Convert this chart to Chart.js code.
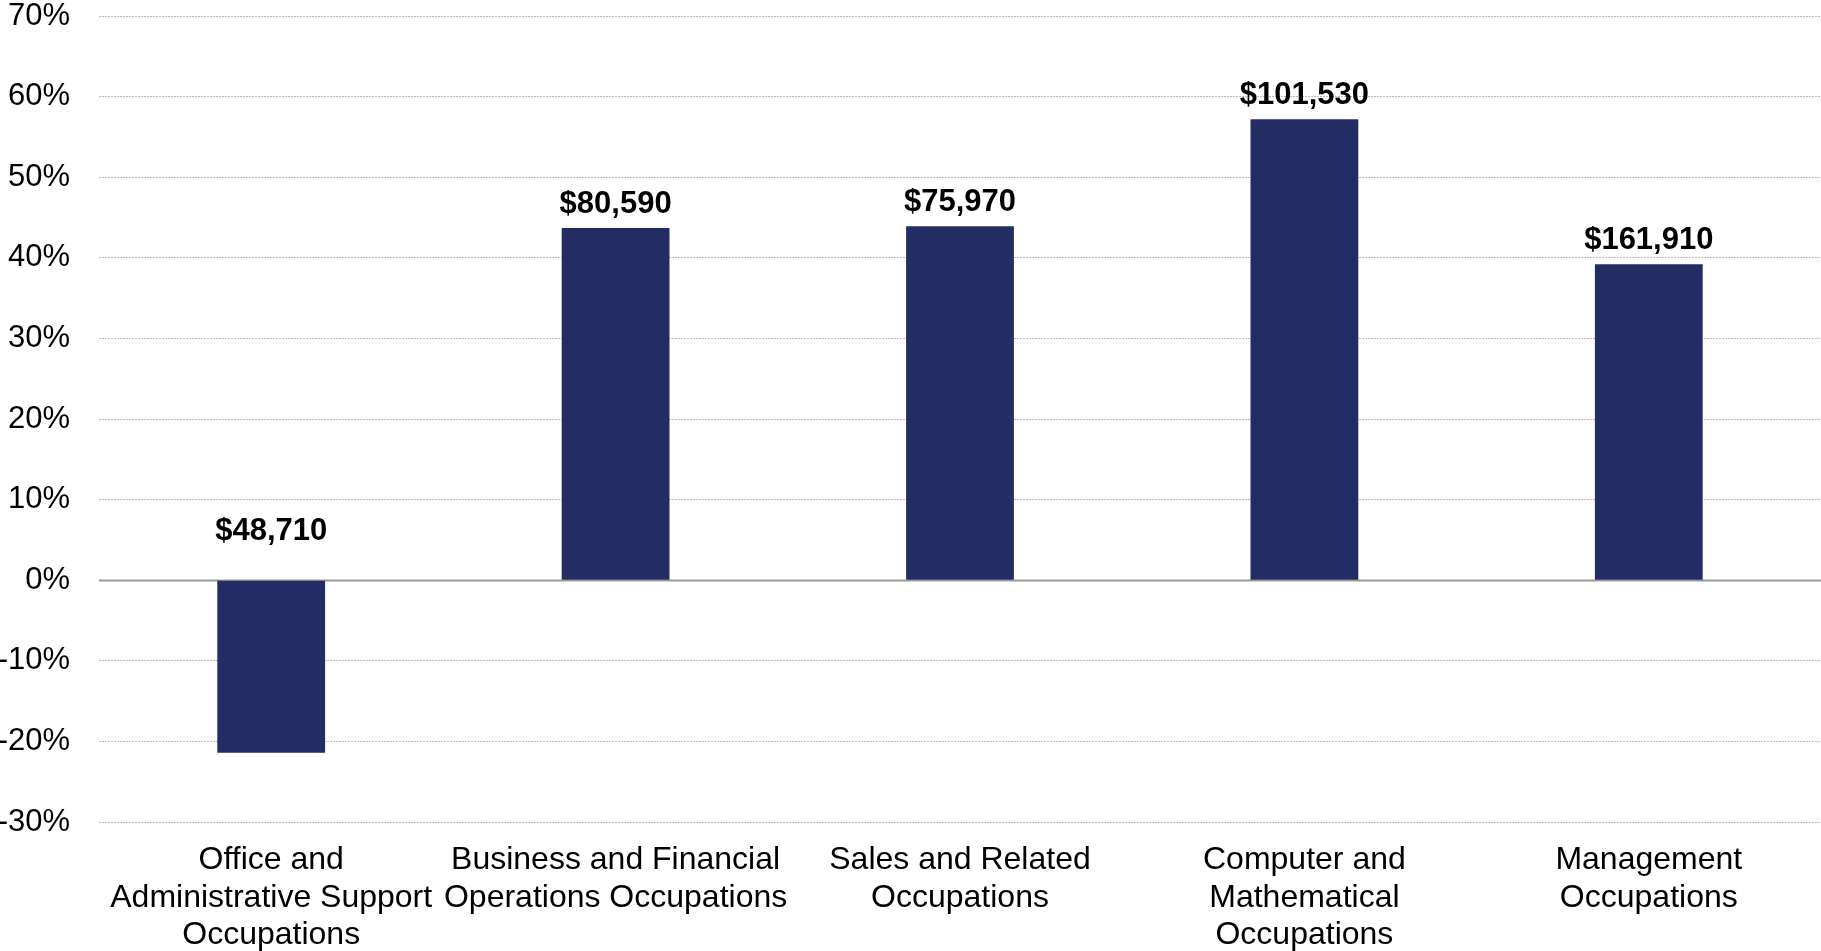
<!DOCTYPE html>
<html>
<head>
<meta charset="utf-8">
<script src="https://cdn.jsdelivr.net/npm/chart.js@4/dist/chart.umd.min.js"></script>
<style>
  html, body { margin: 0; padding: 0; background: #ffffff; }
  #wrap { width: 1821px; height: 951px; position: relative; }
</style>
</head>
<body>
<div id="wrap"><canvas id="chart"></canvas></div>
<script>
// Occupation groups (multi-line axis labels)
const categories = [
  ['Office and', 'Administrative Support', 'Occupations'],
  ['Business and Financial', 'Operations Occupations'],
  ['Sales and Related', 'Occupations'],
  ['Computer and', 'Mathematical', 'Occupations'],
  ['Management', 'Occupations']
];
// Percent change per group
const changePct = [-21.4, 43.7, 43.9, 57.2, 39.2];
// Annual wage shown above each bar
const wageLabels = ['$48,710', '$80,590', '$75,970', '$101,530', '$161,910'];
// Value axis range and step (percent)
const yMin = -30;
const yMax = 70;
const yStep = 10;

const FONT = '"Liberation Sans", Arial, Helvetica, sans-serif';
const BAR_COLOR = '#242c64';

// Solid baseline at zero, drawn under the bars
const zeroLine = {
  id: 'zeroLine',
  beforeDatasetsDraw(chart) {
    const { ctx, chartArea, scales } = chart;
    const y = Math.round(scales.y.getPixelForValue(0)) + 0.5;
    ctx.save();
    ctx.strokeStyle = '#9a9a9a';
    ctx.lineWidth = 2;
    ctx.beginPath();
    ctx.moveTo(chartArea.left, y);
    ctx.lineTo(chartArea.right, y);
    ctx.stroke();
    ctx.restore();
  }
};

// Wage text above each bar (above the baseline for negative bars)
const wageText = {
  id: 'wageText',
  afterDatasetsDraw(chart) {
    const { ctx, scales } = chart;
    const meta = chart.getDatasetMeta(0);
    const zeroY = scales.y.getPixelForValue(0);
    ctx.save();
    ctx.font = 'bold 31px ' + FONT;
    ctx.fillStyle = '#000000';
    ctx.textAlign = 'center';
    ctx.textBaseline = 'alphabetic';
    meta.data.forEach((bar, i) => {
      const v = changePct[i];
      const baseY = v >= 0 ? bar.y - 15 : zeroY - 40;
      ctx.fillText(wageLabels[i], bar.x, baseY);
    });
    ctx.restore();
  }
};

new Chart(document.getElementById('chart'), {
  type: 'bar',
  data: {
    labels: categories,
    datasets: [{
      data: changePct,
      backgroundColor: BAR_COLOR,
      borderWidth: 0,
      categoryPercentage: 1,
      barPercentage: 0.313
    }]
  },
  options: {
    responsive: true,
    maintainAspectRatio: false,
    animation: false,
    events: [],
    layout: { padding: { top: 16, right: 0, left: 0, bottom: 0 } },
    plugins: {
      legend: { display: false },
      tooltip: { enabled: false }
    },
    scales: {
      x: {
        grid: { display: false, drawTicks: false },
        border: { display: false },
        ticks: {
          color: '#000000',
          padding: 20,
          maxRotation: 0,
          autoSkip: false,
          font: { family: FONT, size: 32, lineHeight: 1.16 }
        },
        afterFit(scale) { scale.height = 129; }
      },
      y: {
        min: yMin,
        max: yMax,
        grid: {
          drawTicks: false,
          lineWidth: 1,
          color: ctx => (ctx.tick && ctx.tick.value === 0) ? 'rgba(0,0,0,0)' : '#bdbdbd'
        },
        border: { display: false, dash: [2, 1] },
        ticks: {
          stepSize: yStep,
          color: '#000000',
          padding: 29,
          font: { family: FONT, size: 31, lineHeight: 1 },
          callback: v => v + '%'
        },
        afterFit(scale) {
          scale.width = 99;
          scale.paddingTop = 15;
          scale.paddingBottom = 15;
        }
      }
    }
  },
  plugins: [zeroLine, wageText]
});
</script>
</body>
</html>
